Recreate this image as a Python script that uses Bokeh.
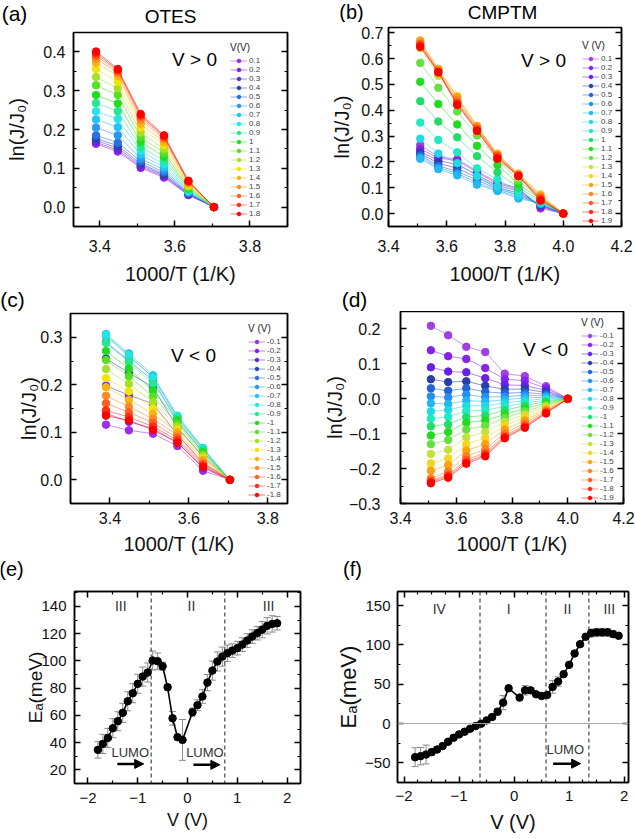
from bokeh.plotting import figure
from bokeh.models import (Range1d, LinearAxis, FixedTicker, Legend, LegendItem, Label,
                          Span, Whisker, ColumnDataSource, Arrow, NormalHead, TeeHead,
                          CustomJSTickFormatter, CustomLabelingPolicy)
from bokeh.layouts import column, row
from bokeh.embed import file_html
from bokeh.resources import INLINE

FONT = "Liberation Sans"

# ---------------- data ----------------
# 1000/T (1/K)
x_a = [3.390, 3.448, 3.509, 3.571, 3.636, 3.704]
x_c = [3.390, 3.448, 3.509, 3.571, 3.636, 3.704]
x_b = [3.509, 3.571, 3.636, 3.704, 3.774, 3.846, 3.922, 4.000]
x_d = [3.509, 3.571, 3.636, 3.704, 3.774, 3.846, 3.922, 4.000]

v_a = ["0.1", "0.2", "0.3", "0.4", "0.5", "0.6", "0.7", "0.8", "0.9", "1",
       "1.1", "1.2", "1.3", "1.4", "1.5", "1.6", "1.7", "1.8"]
ln_a = [
    [0.163, 0.143, 0.101, 0.076, 0.031, 0],
    [0.167, 0.147, 0.104, 0.079, 0.032, 0],
    [0.172, 0.152, 0.108, 0.082, 0.033, 0],
    [0.177, 0.158, 0.112, 0.085, 0.035, 0],
    [0.185, 0.166, 0.118, 0.090, 0.036, 0],
    [0.205, 0.185, 0.125, 0.096, 0.038, 0],
    [0.226, 0.206, 0.135, 0.103, 0.040, 0],
    [0.247, 0.227, 0.145, 0.111, 0.042, 0],
    [0.268, 0.247, 0.155, 0.120, 0.045, 0],
    [0.289, 0.267, 0.168, 0.130, 0.048, 0],
    [0.314, 0.289, 0.180, 0.140, 0.051, 0],
    [0.335, 0.306, 0.192, 0.150, 0.054, 0],
    [0.356, 0.323, 0.205, 0.160, 0.057, 0],
    [0.372, 0.338, 0.215, 0.168, 0.060, 0],
    [0.383, 0.345, 0.225, 0.175, 0.063, 0],
    [0.390, 0.350, 0.232, 0.179, 0.065, 0],
    [0.396, 0.353, 0.236, 0.182, 0.066, 0],
    [0.401, 0.356, 0.240, 0.185, 0.068, 0],
]

v_b = ["0.1", "0.2", "0.3", "0.4", "0.5", "0.6", "0.7", "0.8", "0.9", "1",
       "1.1", "1.2", "1.3", "1.4", "1.5", "1.6", "1.7", "1.8", "1.9"]
ln_b = [
    [0.265, 0.220, 0.210, 0.165, 0.120, 0.100, 0.020, 0],
    [0.250, 0.215, 0.205, 0.160, 0.115, 0.095, 0.025, 0],
    [0.240, 0.205, 0.190, 0.150, 0.108, 0.088, 0.030, 0],
    [0.232, 0.195, 0.175, 0.140, 0.100, 0.080, 0.032, 0],
    [0.225, 0.185, 0.163, 0.130, 0.095, 0.072, 0.035, 0],
    [0.218, 0.178, 0.155, 0.120, 0.090, 0.065, 0.037, 0],
    [0.212, 0.172, 0.148, 0.112, 0.087, 0.058, 0.040, 0],
    [0.290, 0.232, 0.195, 0.145, 0.105, 0.070, 0.042, 0],
    [0.352, 0.285, 0.237, 0.175, 0.132, 0.085, 0.045, 0],
    [0.435, 0.356, 0.295, 0.222, 0.160, 0.100, 0.050, 0],
    [0.510, 0.424, 0.345, 0.262, 0.188, 0.115, 0.055, 0],
    [0.583, 0.487, 0.395, 0.302, 0.210, 0.128, 0.060, 0],
    [0.640, 0.533, 0.435, 0.330, 0.222, 0.140, 0.065, 0],
    [0.665, 0.555, 0.455, 0.340, 0.232, 0.155, 0.075, 0],
    [0.670, 0.560, 0.450, 0.338, 0.230, 0.153, 0.070, 0],
    [0.660, 0.553, 0.440, 0.333, 0.226, 0.150, 0.065, 0],
    [0.655, 0.550, 0.430, 0.328, 0.222, 0.148, 0.060, 0],
    [0.650, 0.545, 0.425, 0.323, 0.218, 0.146, 0.055, 0],
    [0.645, 0.548, 0.420, 0.320, 0.212, 0.145, 0.050, 0],
]

v_c = ["-0.1", "-0.2", "-0.3", "-0.4", "-0.5", "-0.6", "-0.7", "-0.8", "-0.9", "-1",
       "-1.1", "-1.2", "-1.3", "-1.4", "-1.5", "-1.6", "-1.7", "-1.8"]
ln_c = [
    [0.116, 0.104, 0.097, 0.071, 0.019, 0],
    [0.140, 0.122, 0.108, 0.078, 0.025, 0],
    [0.198, 0.178, 0.160, 0.095, 0.035, 0],
    [0.255, 0.225, 0.195, 0.110, 0.048, 0],
    [0.290, 0.250, 0.210, 0.122, 0.058, 0],
    [0.303, 0.260, 0.216, 0.130, 0.064, 0],
    [0.307, 0.266, 0.220, 0.134, 0.067, 0],
    [0.305, 0.262, 0.215, 0.135, 0.066, 0],
    [0.288, 0.248, 0.202, 0.130, 0.062, 0],
    [0.271, 0.234, 0.188, 0.125, 0.058, 0],
    [0.252, 0.218, 0.175, 0.118, 0.054, 0],
    [0.233, 0.202, 0.163, 0.112, 0.050, 0],
    [0.214, 0.186, 0.150, 0.106, 0.046, 0],
    [0.195, 0.168, 0.139, 0.100, 0.042, 0],
    [0.177, 0.154, 0.128, 0.094, 0.037, 0],
    [0.161, 0.142, 0.120, 0.088, 0.033, 0],
    [0.146, 0.132, 0.112, 0.083, 0.030, 0],
    [0.135, 0.125, 0.105, 0.078, 0.027, 0],
]

v_d = ["-0.1", "-0.2", "-0.3", "-0.4", "-0.5", "-0.6", "-0.7", "-0.8", "-0.9", "-1",
       "-1.1", "-1.2", "-1.3", "-1.4", "-1.5", "-1.6", "-1.7", "-1.8", "-1.9"]
ln_d = [
    [0.209, 0.182, 0.149, 0.134, 0.072, 0.065, 0.036, 0],
    [0.139, 0.122, 0.114, 0.088, 0.056, 0.052, 0.030, 0],
    [0.090, 0.078, 0.076, 0.059, 0.040, 0.038, 0.024, 0],
    [0.056, 0.048, 0.050, 0.037, 0.027, 0.028, 0.018, 0],
    [0.030, 0.023, 0.030, 0.020, 0.016, 0.018, 0.013, 0],
    [0.007, 0.004, 0.012, 0.005, 0.006, 0.010, 0.008, 0],
    [-0.013, -0.015, -0.005, -0.008, -0.003, 0.003, 0.004, 0],
    [-0.036, -0.032, -0.020, -0.020, -0.012, -0.005, 0.000, 0],
    [-0.057, -0.052, -0.035, -0.033, -0.022, -0.012, -0.004, 0],
    [-0.079, -0.073, -0.052, -0.048, -0.033, -0.020, -0.008, 0],
    [-0.105, -0.095, -0.068, -0.062, -0.045, -0.028, -0.013, 0],
    [-0.130, -0.118, -0.088, -0.077, -0.055, -0.036, -0.018, 0],
    [-0.158, -0.146, -0.110, -0.095, -0.066, -0.045, -0.022, 0],
    [-0.185, -0.171, -0.130, -0.113, -0.077, -0.053, -0.027, 0],
    [-0.206, -0.190, -0.148, -0.130, -0.088, -0.062, -0.031, 0],
    [-0.228, -0.208, -0.165, -0.145, -0.098, -0.070, -0.035, 0],
    [-0.235, -0.217, -0.175, -0.155, -0.105, -0.076, -0.038, 0],
    [-0.238, -0.222, -0.182, -0.160, -0.110, -0.080, -0.040, 0],
    [-0.242, -0.226, -0.186, -0.165, -0.113, -0.083, -0.042, 0],
]

# Activation energy (meV) vs bias (V)
v_e = [-1.8, -1.7, -1.6, -1.5, -1.4, -1.3, -1.2, -1.1, -1.0, -0.9, -0.8, -0.7, -0.6,
       -0.5, -0.4, -0.3, -0.2, -0.1, 0.1, 0.2, 0.3, 0.4, 0.5, 0.6, 0.7, 0.8, 0.9,
       1.0, 1.1, 1.2, 1.3, 1.4, 1.5, 1.6, 1.7, 1.8]
ea_e = [34.7, 39.1, 43.5, 50.6, 55.7, 61.9, 70.4, 76.3, 83.2, 88.5, 91.5, 100.3, 99.8,
        96.1, 80.7, 57.9, 44.0, 42.0, 62.4, 67.5, 73.9, 84.1, 92.9, 99.6, 103.2, 105.7,
        107.6, 109.4, 112.0, 115.0, 117.9, 120.4, 123.0, 125.8, 127.2, 127.7]
err_e = [6, 7, 7, 7, 7, 7, 7, 7, 7, 7, 7, 7, 6, 3, 2, 5, 2, 15, 3, 4, 5, 6, 7, 7, 7,
         6, 5, 5, 5, 5, 5, 5, 6, 6, 6, 5]

v_f = [-1.8, -1.7, -1.6, -1.5, -1.4, -1.3, -1.2, -1.1, -1.0, -0.9, -0.8, -0.7, -0.6,
       -0.5, -0.4, -0.3, -0.2, -0.1, 0.1, 0.2, 0.3, 0.4, 0.5, 0.6, 0.7, 0.8, 0.9,
       1.0, 1.1, 1.2, 1.3, 1.4, 1.5, 1.6, 1.7, 1.8, 1.9]
ea_f = [-42.8, -41.5, -39.4, -36.4, -33.0, -28.7, -23.2, -18.1, -13.8, -10.4, -6.6,
        -3.2, -0.2, 4.0, 8.3, 15.1, 26.6, 44.9, 33.0, 42.3, 42.3, 37.2, 35.1, 36.4,
        46.6, 53.4, 62.8, 74.7, 89.1, 101.0, 110.4, 115.1, 116.0, 116.0, 116.0, 113.8,
        111.7]
err_f = [12, 11, 12, 4, 3, 2, 2, 2, 2, 2, 2, 2, 2, 2, 3, 4, 9, 2, 2, 6, 3, 2, 2, 2,
         8, 6, 2, 2, 2, 2, 2, 5, 5, 5, 5, 4, 2]

# region boundaries (V) and region names
bounds_e = [-0.73, 0.75]
bounds_f = [-0.62, 0.58, 1.36]
regions_e = ["III", "II", "III"]
regions_e_v = [-1.34, 0.08, 1.63]
regions_f = ["IV", "I", "II", "III"]
regions_f_v = [-1.36, -0.10, 0.97, 1.73]

# ---------------- styles ----------------
pal18 = ["#9a2ee6", "#7f1fe6", "#5b2fd0", "#2a47a8", "#2670e0", "#2a98ee", "#22c4f2",
         "#22e6e2", "#22e890", "#1fdc1f", "#55e020", "#a6e025", "#f2e400", "#f7b310",
         "#ff8a22", "#ff5e1e", "#ff2e12", "#ff0000"]
pal19 = ["#a040e0", "#8424e8", "#6622e6", "#2a3fa6", "#2462d8", "#2490ef", "#22b6f2",
         "#22d8e6", "#22e8c6", "#22dc6a", "#1fdc1f", "#66e040", "#c0e23a", "#f8d420",
         "#f8a310", "#ff8120", "#ff5a1e", "#ff2a12", "#ff0000"]

TICK_FS = "16px"
LAB_FS = "20px"

fmt1 = CustomJSTickFormatter(code="return (tick < -1e-9 ? '\u2212' : '') + Math.abs(tick).toFixed(1);")
fmt0 = CustomJSTickFormatter(code="return (tick < -1e-9 ? '\u2212' : '') + Math.abs(tick).toFixed(0);")
no_labels = CustomLabelingPolicy(code="for (const i of indices) { indices.unset(i) }\nreturn indices")


def style_axis(ax, ticks, minor, fs=TICK_FS, hide=False, standoff=8):
    ax.ticker = FixedTicker(ticks=ticks, minor_ticks=minor)
    ax.major_tick_in = 6
    ax.major_tick_out = 0
    ax.minor_tick_in = 3
    ax.minor_tick_out = 0
    ax.axis_line_width = 1.5
    ax.major_tick_line_width = 1.5
    ax.minor_tick_line_width = 1.2
    ax.axis_line_color = "black"
    ax.major_label_text_font = FONT
    ax.major_label_text_font_size = fs
    ax.major_label_text_color = "#111"
    ax.major_label_standoff = standoff
    ax.axis_label_text_font = FONT
    ax.axis_label_text_font_style = "normal"
    ax.axis_label_text_font_size = LAB_FS
    ax.axis_label_text_color = "#111"
    if hide:
        ax.major_label_policy = no_labels
        ax.major_label_text_font_size = "1px"
        ax.major_label_standoff = 0


def make_fig(w, h, xr, yr, bl, br, bt, bb, xt, xm, yt, ym, xlabel, ylabel,
             xfmt, yfmt, top=False, xlab_fs=LAB_FS, ylab_fs=LAB_FS, tick_fs=TICK_FS,
             xso=8, yso=8, xls=6, yls=8):
    p = figure(width=w, height=h, x_range=Range1d(*xr), y_range=Range1d(*yr),
               output_backend="svg", toolbar_location=None,
               min_border_left=bl, min_border_right=br, min_border_top=bt,
               min_border_bottom=bb)
    p.frame_align = False
    p.xgrid.visible = False
    p.ygrid.visible = False
    p.outline_line_color = "black"
    p.outline_line_width = 1.5
    style_axis(p.xaxis[0], xt, xm, tick_fs, standoff=xso)
    style_axis(p.yaxis[0], yt, ym, tick_fs, standoff=yso)
    p.xaxis[0].formatter = xfmt
    p.yaxis[0].formatter = yfmt
    p.xaxis[0].axis_label = xlabel
    p.yaxis[0].axis_label = ylabel
    p.xaxis[0].axis_label_text_font_size = xlab_fs
    p.yaxis[0].axis_label_text_font_size = ylab_fs
    p.xaxis[0].axis_label_standoff = xls
    p.yaxis[0].axis_label_standoff = yls
    ra = LinearAxis()
    style_axis(ra, yt, ym, hide=True)
    p.add_layout(ra, "right")
    if top:
        ta = LinearAxis()
        style_axis(ta, xt, xm, hide=True)
        p.add_layout(ta, "above")
    return p


def strip(w, h, texts):
    """A plain text band (panel letters and titles) above a panel."""
    s = figure(width=w, height=h, x_range=Range1d(0, w), y_range=Range1d(0, h),
               x_axis_type=None, y_axis_type=None, output_backend="svg",
               toolbar_location=None, min_border=0, outline_line_color=None)
    s.frame_align = False
    s.xgrid.visible = False
    s.ygrid.visible = False
    for (x, y, t, fs) in texts:
        s.add_layout(Label(x=x, y=y, text=t, text_font=FONT, text_font_size=fs,
                           text_align="center", text_baseline="middle",
                           text_color="black"))
    return s


def add_label(p, x, y, text, fs, align="center", units="screen", color="black"):
    p.add_layout(Label(x=x, y=y, x_units=units, y_units=units, text=text,
                       text_font=FONT, text_font_size=fs, text_align=align,
                       text_baseline="middle", text_color=color))


def rainbow(p, xs, labels, rows, palette, title, loc):
    items = []
    for lab, ys, c in zip(labels, rows, palette):
        src = ColumnDataSource(dict(x=xs, y=ys))
        r1 = p.line("x", "y", source=src, line_color=c, line_width=1, line_alpha=0.55)
        r2 = p.scatter("x", "y", source=src, size=7.5, fill_color=c, line_color=c)
        items.append(LegendItem(label=lab, renderers=[r1, r2]))
    leg = Legend(items=items, location=loc, title=title,
                 title_text_font=FONT, title_text_font_size="10px",
                 title_text_font_style="normal", title_text_color="#222",
                 title_standoff=3,
                 label_text_font=FONT, label_text_font_size="8px",
                 label_text_color="#444", label_height=9, glyph_height=9,
                 glyph_width=17, label_standoff=2, spacing=0, padding=0, margin=0,
                 border_line_color=None, background_fill_alpha=0)
    p.add_layout(leg)


xlab_T = "1000/T (1/K)"
ylab_ln = "ln(J/J\u2080)"

# ---------------- (a) OTES V>0 ----------------
sa = strip(318, 26, [(14, 13, "(a)", "21px"), (170, 10, "OTES", "19px")])
pa = make_fig(318, 261, (3.33, 3.90), (-0.05, 0.45), 73, 31, 6, 56,
              [3.4, 3.6, 3.8], [3.3, 3.5, 3.7, 3.9],
              [0.0, 0.1, 0.2, 0.3, 0.4], [-0.05, 0.05, 0.15, 0.25, 0.35, 0.45],
              xlab_T, ylab_ln, fmt1, fmt1, xso=13, xls=8, yls=12)
rainbow(pa, x_a, v_a, ln_a, pal18, "V(V)", (157, 8))
add_label(pa, 121, 167, "V > 0", "19px")

# ---------------- (b) CMPTM V>0 ----------------
sb = strip(317, 22, [(33, 11, "(b)", "20px"), (184, 10, "CMPTM", "19px")])
pb = make_fig(317, 265, (3.4, 4.2), (-0.05, 0.72), 70, 14, 5, 55,
              [3.4, 3.6, 3.8, 4.0, 4.2], [3.5, 3.7, 3.9, 4.1],
              [0.0, 0.1, 0.2, 0.3, 0.4, 0.5, 0.6, 0.7],
              [0.05, 0.15, 0.25, 0.35, 0.45, 0.55, 0.65],
              xlab_T, ylab_ln, fmt1, fmt1, xso=13, xls=8, yso=5, yls=5)
rainbow(pb, x_b, v_b, ln_b, pal19, "V (V)", (194, 1))
add_label(pb, 155, 166, "V > 0", "19px")

# ---------------- (c) OTES V<0 ----------------
sc = strip(318, 24, [(12, 12, "(c)", "21px")])
pc = make_fig(318, 246, (3.30, 3.85), (-0.05, 0.35), 70, 31, 2, 54,
              [3.4, 3.6, 3.8], [3.3, 3.5, 3.7],
              [0.0, 0.1, 0.2, 0.3], [-0.05, 0.05, 0.15, 0.25, 0.35],
              xlab_T, ylab_ln, fmt1, fmt1, yls=-3)
rainbow(pc, x_c, v_c, ln_c, pal18, "V (V)", (178, 4))
add_label(pc, 123, 148, "V < 0", "19px")

# ---------------- (d) CMPTM V<0 ----------------
sd = strip(317, 24, [(36, 12, "(d)", "21px")])
pd = make_fig(317, 246, (3.4, 4.2), (-0.3, 0.25), 82, 12, 0, 49,
              [3.4, 3.6, 3.8, 4.0, 4.2], [3.5, 3.7, 3.9, 4.1],
              [-0.3, -0.2, -0.1, 0.0, 0.1, 0.2], [-0.25, -0.15, -0.05, 0.05, 0.15, 0.25],
              xlab_T, ylab_ln, fmt1, fmt1, yso=20, yls=0)
rainbow(pd, x_d, v_d, ln_d, pal19, "V (V)", (181, 1))
add_label(pd, 145, 154, "V < 0", "19px")


# ---------------- (e), (f) activation energy ----------------
def ea_panel(p, vs, ea, err, bounds, reg_names, reg_v, reg_y):
    src = ColumnDataSource(dict(x=vs, y=ea,
                                upper=[a + b for a, b in zip(ea, err)],
                                lower=[a - b for a, b in zip(ea, err)]))
    for b in bounds:
        p.add_layout(Span(location=b, dimension="height", line_color="#222",
                          line_width=1, line_dash="4 3"))
    p.add_layout(Whisker(source=src, base="x", upper="upper", lower="lower",
                         line_color="#8a8a8a", line_width=1,
                         upper_head=TeeHead(size=7, line_color="#8a8a8a", line_width=1),
                         lower_head=TeeHead(size=7, line_color="#8a8a8a", line_width=1)))
    p.line("x", "y", source=src, line_color="black", line_width=1.6)
    p.scatter("x", "y", source=src, size=7.5, fill_color="black", line_color="black")
    for name, v in zip(reg_names, reg_v):
        add_label(p, v, reg_y, name, "14px", units="data", color="#333")


se = strip(318, 23, [(11, 11.5, "(e)", "20px")])
pe = make_fig(318, 259, (-2.27, 2.27), (10, 151), 74, 18, 11, 56,
              [-2, -1, 0, 1, 2], [-1.5, -0.5, 0.5, 1.5],
              [20, 40, 60, 80, 100, 120, 140], [10, 30, 50, 70, 90, 110, 130, 150],
              "V (V)", "E\u2090(meV)", fmt0, fmt0, top=True, xlab_fs="18px",
              ylab_fs="19px", tick_fs="15px", xso=9, yso=8, xls=4, yls=-8)
ea_panel(pe, v_e, ea_e, err_e, bounds_e, regions_e, regions_e_v, 140)
add_label(pe, -1.15, 33, "LUMO", "13px", units="data", color="#333")
add_label(pe, 0.35, 33, "LUMO", "13px", units="data", color="#333")
pe.add_layout(Arrow(end=NormalHead(size=9, fill_color="black", line_color="black"),
                    x_start=-1.41, y_start=24.4, x_end=-0.88, y_end=24.4,
                    line_width=2.5, line_color="black"))
pe.add_layout(Arrow(end=NormalHead(size=9, fill_color="black", line_color="black"),
                    x_start=0.12, y_start=23.7, x_end=0.65, y_end=23.7,
                    line_width=2.5, line_color="black"))

sf = strip(317, 23, [(34, 11.5, "(f)", "20px")])
pf = make_fig(317, 259, (-2.12, 2.08), (-75, 168), 79, 7, 11, 57,
              [-2, -1, 0, 1, 2],
              [-1.75, -1.5, -1.25, -0.75, -0.5, -0.25, 0.25, 0.5, 0.75, 1.25, 1.5, 1.75],
              [-50, 0, 50, 100, 150], [-75, -25, 25, 75, 125],
              "V (V)", "E\u2090(meV)", fmt0, fmt0, top=True, xlab_fs="20px",
              ylab_fs="22px", tick_fs="15px", xso=8, yso=7, xls=7, yls=1)
pf.add_layout(Span(location=0, dimension="width", line_color="#aaaaaa", line_width=1))
ea_panel(pf, v_f, ea_f, err_f, bounds_f, regions_f, regions_f_v, 146)
add_label(pf, 0.93, -33, "LUMO", "13px", units="data", color="#333")
pf.add_layout(Arrow(end=NormalHead(size=9, fill_color="black", line_color="black"),
                    x_start=0.71, y_start=-51, x_end=1.21, y_end=-51,
                    line_width=2.5, line_color="black"))

layout = row(column(sa, pa, sc, pc, se, pe), column(sb, pb, sd, pd, sf, pf))
open("out.html", "w").write(file_html(layout, INLINE))
